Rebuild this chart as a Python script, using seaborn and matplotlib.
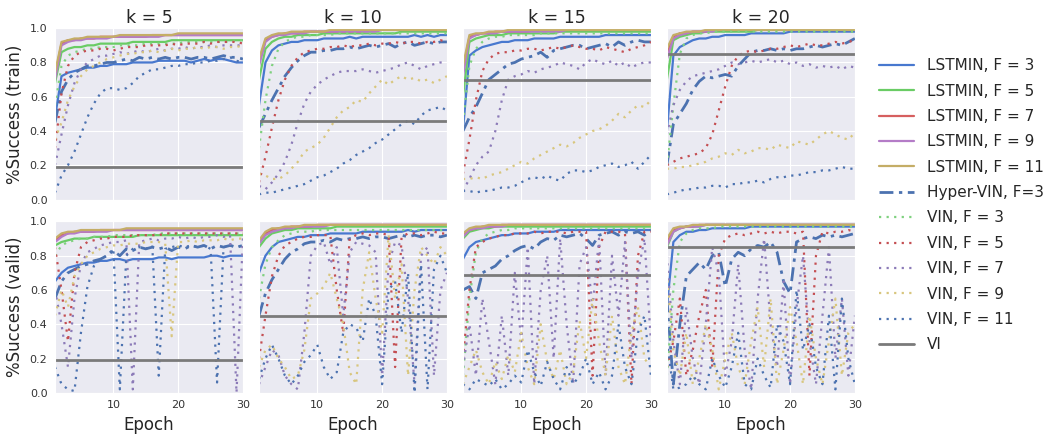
import matplotlib
matplotlib.use("Agg")
import matplotlib.pyplot as plt
import seaborn as sns
import pandas as pd

epochs = list(range(1, 31))
ks = [5, 10, 15, 20]
vi_train = [0.19, 0.46, 0.70, 0.85]
vi_valid = [0.19, 0.45, 0.69, 0.85]

names = ["L3", "L5", "L7", "L9", "L11", "HV", "V3", "V5", "V7", "V9", "V11"]
labels = ["LSTMIN, F = 3", "LSTMIN, F = 5", "LSTMIN, F = 7", "LSTMIN, F = 9",
          "LSTMIN, F = 11", "Hyper-VIN, F=3", "VIN, F = 3", "VIN, F = 5",
          "VIN, F = 7", "VIN, F = 9", "VIN, F = 11"]

# ---- training curves ----
train_k5 = {
    "L3": [0.48, 0.72, 0.74, 0.75, 0.76, 0.77, 0.77, 0.78, 0.78, 0.79, 0.79, 0.79, 0.80, 0.80, 0.80, 0.80, 0.81, 0.81, 0.81, 0.81, 0.81, 0.80, 0.81, 0.82, 0.81, 0.82, 0.82, 0.81, 0.80, 0.80],
    "L5": [0.68, 0.86, 0.88, 0.89, 0.89, 0.90, 0.90, 0.91, 0.91, 0.91, 0.91, 0.91, 0.92, 0.92, 0.92, 0.92, 0.92, 0.92, 0.93, 0.93, 0.93, 0.93, 0.93, 0.93, 0.93, 0.93, 0.93, 0.93, 0.93, 0.93],
    "L7": [0.72, 0.91, 0.93, 0.93, 0.94, 0.94, 0.94, 0.95, 0.95, 0.95, 0.95, 0.95, 0.95, 0.95, 0.95, 0.96, 0.96, 0.96, 0.96, 0.96, 0.96, 0.96, 0.96, 0.96, 0.96, 0.96, 0.96, 0.96, 0.96, 0.96],
    "L9": [0.70, 0.90, 0.92, 0.93, 0.93, 0.94, 0.94, 0.94, 0.94, 0.95, 0.95, 0.95, 0.95, 0.95, 0.95, 0.95, 0.95, 0.96, 0.96, 0.96, 0.96, 0.96, 0.96, 0.96, 0.96, 0.96, 0.96, 0.96, 0.96, 0.96],
    "L11": [0.74, 0.92, 0.93, 0.94, 0.94, 0.95, 0.95, 0.95, 0.95, 0.95, 0.96, 0.96, 0.96, 0.96, 0.96, 0.96, 0.96, 0.96, 0.96, 0.97, 0.97, 0.97, 0.97, 0.97, 0.97, 0.97, 0.97, 0.97, 0.97, 0.97],
    "HV": [0.45, 0.63, 0.70, 0.74, 0.76, 0.78, 0.78, 0.79, 0.80, 0.80, 0.81, 0.82, 0.81, 0.83, 0.82, 0.83, 0.82, 0.83, 0.82, 0.83, 0.83, 0.82, 0.83, 0.83, 0.82, 0.83, 0.84, 0.83, 0.83, 0.82],
    "V3": [0.55, 0.78, 0.84, 0.86, 0.87, 0.88, 0.88, 0.89, 0.89, 0.89, 0.90, 0.90, 0.90, 0.90, 0.91, 0.91, 0.91, 0.91, 0.91, 0.91, 0.92, 0.92, 0.92, 0.92, 0.92, 0.92, 0.92, 0.92, 0.93, 0.93],
    "V5": [0.30, 0.62, 0.78, 0.84, 0.86, 0.87, 0.87, 0.88, 0.88, 0.87, 0.88, 0.89, 0.89, 0.89, 0.90, 0.90, 0.90, 0.90, 0.91, 0.90, 0.91, 0.91, 0.91, 0.92, 0.91, 0.92, 0.92, 0.92, 0.92, 0.91],
    "V7": [0.20, 0.38, 0.55, 0.68, 0.76, 0.80, 0.82, 0.84, 0.84, 0.85, 0.86, 0.85, 0.86, 0.87, 0.86, 0.87, 0.88, 0.87, 0.88, 0.88, 0.89, 0.88, 0.89, 0.89, 0.90, 0.89, 0.90, 0.90, 0.90, 0.90],
    "V9": [0.35, 0.45, 0.58, 0.66, 0.72, 0.76, 0.78, 0.80, 0.82, 0.83, 0.84, 0.85, 0.85, 0.86, 0.86, 0.87, 0.86, 0.87, 0.88, 0.87, 0.88, 0.88, 0.89, 0.88, 0.89, 0.89, 0.88, 0.89, 0.89, 0.90],
    "V11": [0.04, 0.14, 0.20, 0.28, 0.38, 0.48, 0.56, 0.62, 0.65, 0.65, 0.64, 0.65, 0.68, 0.72, 0.74, 0.76, 0.76, 0.77, 0.78, 0.78, 0.79, 0.79, 0.80, 0.80, 0.81, 0.81, 0.82, 0.83, 0.81, 0.80],
}
train_k10 = {
    "L3": [0.55, 0.80, 0.87, 0.90, 0.91, 0.92, 0.92, 0.93, 0.93, 0.93, 0.94, 0.94, 0.94, 0.94, 0.95, 0.94, 0.95, 0.95, 0.95, 0.95, 0.95, 0.95, 0.95, 0.95, 0.96, 0.95, 0.96, 0.95, 0.96, 0.96],
    "L5": [0.70, 0.88, 0.92, 0.94, 0.95, 0.95, 0.96, 0.96, 0.96, 0.96, 0.97, 0.97, 0.97, 0.97, 0.97, 0.97, 0.97, 0.97, 0.97, 0.97, 0.97, 0.97, 0.98, 0.98, 0.98, 0.98, 0.98, 0.98, 0.98, 0.98],
    "L7": [0.80, 0.93, 0.95, 0.96, 0.97, 0.97, 0.97, 0.98, 0.98, 0.98, 0.98, 0.98, 0.98, 0.98, 0.98, 0.98, 0.98, 0.99, 0.99, 0.99, 0.99, 0.99, 0.99, 0.99, 0.99, 0.99, 0.99, 0.99, 0.99, 0.99],
    "L9": [0.78, 0.92, 0.95, 0.96, 0.96, 0.97, 0.97, 0.97, 0.98, 0.98, 0.98, 0.98, 0.98, 0.98, 0.98, 0.98, 0.98, 0.98, 0.98, 0.99, 0.99, 0.99, 0.99, 0.99, 0.99, 0.99, 0.99, 0.99, 0.99, 0.99],
    "L11": [0.82, 0.94, 0.96, 0.97, 0.97, 0.98, 0.98, 0.98, 0.98, 0.98, 0.98, 0.99, 0.99, 0.99, 0.99, 0.99, 0.99, 0.99, 0.99, 0.99, 0.99, 0.99, 0.99, 0.99, 0.99, 0.99, 0.99, 0.99, 0.99, 0.99],
    "HV": [0.42, 0.50, 0.58, 0.65, 0.72, 0.77, 0.81, 0.84, 0.86, 0.86, 0.87, 0.87, 0.88, 0.88, 0.89, 0.88, 0.89, 0.90, 0.89, 0.90, 0.91, 0.89, 0.91, 0.92, 0.90, 0.91, 0.92, 0.91, 0.92, 0.92],
    "V3": [0.30, 0.58, 0.78, 0.88, 0.92, 0.94, 0.95, 0.95, 0.96, 0.96, 0.96, 0.96, 0.97, 0.97, 0.97, 0.97, 0.97, 0.97, 0.97, 0.97, 0.97, 0.97, 0.97, 0.97, 0.97, 0.97, 0.97, 0.97, 0.97, 0.97],
    "V5": [0.10, 0.25, 0.42, 0.58, 0.70, 0.78, 0.83, 0.86, 0.87, 0.88, 0.88, 0.89, 0.89, 0.90, 0.89, 0.90, 0.90, 0.91, 0.90, 0.91, 0.91, 0.92, 0.91, 0.92, 0.92, 0.91, 0.92, 0.92, 0.93, 0.92],
    "V7": [0.08, 0.06, 0.10, 0.15, 0.22, 0.32, 0.45, 0.56, 0.63, 0.67, 0.70, 0.72, 0.74, 0.75, 0.75, 0.75, 0.76, 0.75, 0.74, 0.75, 0.76, 0.77, 0.79, 0.80, 0.78, 0.76, 0.78, 0.79, 0.80, 0.80],
    "V9": [0.15, 0.14, 0.12, 0.12, 0.14, 0.18, 0.22, 0.28, 0.30, 0.32, 0.36, 0.42, 0.48, 0.52, 0.54, 0.58, 0.57, 0.62, 0.66, 0.70, 0.67, 0.70, 0.72, 0.70, 0.71, 0.69, 0.70, 0.68, 0.70, 0.72],
    "V11": [0.03, 0.04, 0.04, 0.05, 0.06, 0.07, 0.08, 0.09, 0.11, 0.13, 0.14, 0.16, 0.18, 0.21, 0.23, 0.26, 0.28, 0.30, 0.33, 0.35, 0.38, 0.41, 0.44, 0.46, 0.44, 0.49, 0.52, 0.53, 0.54, 0.52],
}
train_k15 = {
    "L3": [0.40, 0.84, 0.87, 0.89, 0.90, 0.91, 0.92, 0.92, 0.93, 0.93, 0.93, 0.94, 0.94, 0.94, 0.94, 0.95, 0.95, 0.95, 0.95, 0.95, 0.95, 0.95, 0.96, 0.96, 0.96, 0.96, 0.96, 0.96, 0.96, 0.96],
    "L5": [0.60, 0.92, 0.94, 0.95, 0.96, 0.96, 0.96, 0.97, 0.97, 0.97, 0.97, 0.97, 0.97, 0.97, 0.97, 0.98, 0.98, 0.98, 0.98, 0.98, 0.98, 0.98, 0.98, 0.98, 0.98, 0.98, 0.98, 0.98, 0.98, 0.98],
    "L7": [0.75, 0.95, 0.96, 0.97, 0.97, 0.98, 0.98, 0.98, 0.98, 0.98, 0.98, 0.99, 0.99, 0.99, 0.99, 0.99, 0.99, 0.99, 0.99, 0.99, 0.99, 0.99, 0.99, 0.99, 0.99, 0.99, 0.99, 0.99, 0.99, 0.99],
    "L9": [0.72, 0.94, 0.96, 0.97, 0.97, 0.97, 0.98, 0.98, 0.98, 0.98, 0.98, 0.98, 0.98, 0.98, 0.98, 0.98, 0.99, 0.99, 0.99, 0.99, 0.99, 0.99, 0.99, 0.99, 0.99, 0.99, 0.99, 0.99, 0.99, 0.99],
    "L11": [0.78, 0.96, 0.97, 0.97, 0.98, 0.98, 0.98, 0.99, 0.99, 0.99, 0.99, 0.99, 0.99, 0.99, 0.99, 0.99, 0.99, 0.99, 0.99, 0.99, 0.99, 0.99, 0.99, 0.99, 0.99, 0.99, 0.99, 0.99, 0.99, 0.99],
    "HV": [0.40, 0.48, 0.54, 0.62, 0.70, 0.73, 0.76, 0.79, 0.80, 0.82, 0.83, 0.84, 0.86, 0.83, 0.87, 0.88, 0.89, 0.90, 0.90, 0.88, 0.89, 0.90, 0.91, 0.89, 0.92, 0.90, 0.92, 0.93, 0.92, 0.92],
    "V3": [0.45, 0.78, 0.88, 0.92, 0.94, 0.95, 0.95, 0.96, 0.96, 0.96, 0.96, 0.96, 0.97, 0.97, 0.97, 0.97, 0.97, 0.97, 0.97, 0.97, 0.97, 0.97, 0.97, 0.97, 0.97, 0.97, 0.97, 0.97, 0.97, 0.97],
    "V5": [0.15, 0.35, 0.58, 0.75, 0.82, 0.85, 0.86, 0.86, 0.87, 0.87, 0.88, 0.88, 0.87, 0.88, 0.89, 0.88, 0.89, 0.90, 0.89, 0.88, 0.88, 0.87, 0.89, 0.88, 0.87, 0.86, 0.88, 0.89, 0.90, 0.92],
    "V7": [0.05, 0.12, 0.20, 0.25, 0.28, 0.40, 0.58, 0.70, 0.72, 0.73, 0.75, 0.74, 0.76, 0.77, 0.78, 0.80, 0.79, 0.78, 0.76, 0.80, 0.82, 0.80, 0.79, 0.81, 0.78, 0.80, 0.77, 0.79, 0.80, 0.80],
    "V9": [0.12, 0.12, 0.13, 0.12, 0.14, 0.15, 0.16, 0.18, 0.20, 0.22, 0.21, 0.24, 0.26, 0.28, 0.30, 0.32, 0.31, 0.33, 0.36, 0.38, 0.40, 0.41, 0.43, 0.46, 0.50, 0.48, 0.52, 0.55, 0.54, 0.58],
    "V11": [0.05, 0.05, 0.04, 0.05, 0.05, 0.06, 0.07, 0.07, 0.08, 0.10, 0.12, 0.13, 0.12, 0.14, 0.12, 0.11, 0.15, 0.17, 0.17, 0.16, 0.17, 0.19, 0.20, 0.21, 0.19, 0.20, 0.22, 0.18, 0.22, 0.26],
}
train_k20 = {
    "L3": [0.40, 0.84, 0.89, 0.91, 0.93, 0.94, 0.94, 0.95, 0.95, 0.96, 0.96, 0.96, 0.96, 0.97, 0.97, 0.97, 0.97, 0.97, 0.97, 0.98, 0.98, 0.98, 0.98, 0.98, 0.98, 0.98, 0.98, 0.98, 0.98, 0.98],
    "L5": [0.70, 0.93, 0.95, 0.96, 0.97, 0.97, 0.98, 0.98, 0.98, 0.98, 0.98, 0.98, 0.98, 0.98, 0.99, 0.99, 0.99, 0.99, 0.99, 0.99, 0.99, 0.99, 0.99, 0.99, 0.99, 0.99, 0.99, 0.99, 0.99, 0.99],
    "L7": [0.85, 0.95, 0.97, 0.97, 0.98, 0.98, 0.98, 0.99, 0.99, 0.99, 0.99, 0.99, 0.99, 0.99, 0.99, 0.99, 0.99, 0.99, 0.99, 0.99, 0.99, 0.99, 0.99, 0.99, 0.99, 0.99, 0.99, 0.99, 0.99, 0.99],
    "L9": [0.82, 0.94, 0.96, 0.97, 0.98, 0.98, 0.98, 0.98, 0.99, 0.99, 0.99, 0.99, 0.99, 0.99, 0.99, 0.99, 0.99, 0.99, 0.99, 0.99, 0.99, 0.99, 0.99, 0.99, 0.99, 0.99, 0.99, 0.99, 0.99, 0.99],
    "L11": [0.88, 0.96, 0.97, 0.98, 0.98, 0.98, 0.99, 0.99, 0.99, 0.99, 0.99, 0.99, 0.99, 0.99, 0.99, 0.99, 0.99, 0.99, 0.99, 0.99, 0.99, 0.99, 0.99, 0.99, 0.99, 0.99, 0.99, 0.99, 0.99, 0.99],
    "HV": [0.20, 0.44, 0.50, 0.56, 0.64, 0.69, 0.72, 0.71, 0.72, 0.73, 0.72, 0.78, 0.82, 0.86, 0.87, 0.87, 0.88, 0.87, 0.88, 0.87, 0.88, 0.88, 0.89, 0.90, 0.89, 0.90, 0.91, 0.90, 0.92, 0.94],
    "V3": [0.20, 0.55, 0.85, 0.94, 0.96, 0.97, 0.97, 0.98, 0.98, 0.98, 0.98, 0.98, 0.98, 0.98, 0.98, 0.98, 0.98, 0.98, 0.98, 0.98, 0.98, 0.98, 0.98, 0.98, 0.98, 0.98, 0.98, 0.98, 0.98, 0.98],
    "V5": [0.20, 0.22, 0.24, 0.25, 0.26, 0.27, 0.30, 0.38, 0.52, 0.66, 0.78, 0.84, 0.86, 0.87, 0.86, 0.87, 0.88, 0.88, 0.89, 0.90, 0.89, 0.90, 0.91, 0.90, 0.90, 0.91, 0.92, 0.91, 0.92, 0.93],
    "V7": [0.38, 0.55, 0.64, 0.69, 0.72, 0.73, 0.74, 0.75, 0.76, 0.78, 0.80, 0.79, 0.80, 0.81, 0.80, 0.81, 0.82, 0.80, 0.81, 0.79, 0.80, 0.78, 0.79, 0.77, 0.78, 0.77, 0.78, 0.76, 0.78, 0.77],
    "V9": [0.18, 0.18, 0.19, 0.19, 0.20, 0.21, 0.22, 0.24, 0.25, 0.27, 0.26, 0.29, 0.27, 0.28, 0.30, 0.30, 0.29, 0.32, 0.31, 0.30, 0.34, 0.33, 0.32, 0.35, 0.38, 0.40, 0.38, 0.36, 0.35, 0.39],
    "V11": [0.03, 0.04, 0.05, 0.06, 0.06, 0.07, 0.07, 0.08, 0.08, 0.07, 0.09, 0.09, 0.10, 0.10, 0.11, 0.10, 0.12, 0.13, 0.13, 0.14, 0.14, 0.15, 0.16, 0.16, 0.17, 0.17, 0.18, 0.19, 0.18, 0.18],
}

# ---- validation curves ----
valid_k5 = {
    "L3": [0.65, 0.70, 0.73, 0.74, 0.75, 0.76, 0.76, 0.77, 0.77, 0.78, 0.78, 0.77, 0.78, 0.78, 0.78, 0.78, 0.79, 0.79, 0.78, 0.79, 0.79, 0.79, 0.79, 0.79, 0.80, 0.80, 0.79, 0.80, 0.80, 0.80],
    "L5": [0.86, 0.88, 0.89, 0.90, 0.90, 0.90, 0.91, 0.91, 0.91, 0.91, 0.91, 0.91, 0.91, 0.92, 0.92, 0.92, 0.92, 0.92, 0.92, 0.92, 0.92, 0.92, 0.92, 0.92, 0.92, 0.92, 0.92, 0.92, 0.92, 0.92],
    "L7": [0.89, 0.92, 0.93, 0.94, 0.94, 0.94, 0.94, 0.95, 0.95, 0.95, 0.95, 0.95, 0.95, 0.95, 0.95, 0.95, 0.95, 0.95, 0.95, 0.95, 0.95, 0.95, 0.95, 0.95, 0.95, 0.95, 0.95, 0.95, 0.95, 0.95],
    "L9": [0.88, 0.91, 0.93, 0.93, 0.94, 0.94, 0.94, 0.94, 0.94, 0.95, 0.95, 0.95, 0.95, 0.95, 0.95, 0.95, 0.95, 0.95, 0.95, 0.95, 0.95, 0.95, 0.95, 0.95, 0.95, 0.95, 0.95, 0.95, 0.95, 0.95],
    "L11": [0.90, 0.93, 0.94, 0.94, 0.95, 0.95, 0.95, 0.95, 0.95, 0.95, 0.95, 0.96, 0.96, 0.96, 0.96, 0.96, 0.96, 0.96, 0.96, 0.96, 0.96, 0.96, 0.96, 0.96, 0.96, 0.96, 0.96, 0.96, 0.96, 0.96],
    "HV": [0.55, 0.65, 0.70, 0.72, 0.74, 0.75, 0.77, 0.78, 0.80, 0.83, 0.80, 0.84, 0.83, 0.85, 0.84, 0.85, 0.84, 0.85, 0.83, 0.85, 0.84, 0.86, 0.85, 0.86, 0.84, 0.86, 0.85, 0.86, 0.85, 0.86],
    "V3": [0.80, 0.86, 0.88, 0.89, 0.90, 0.90, 0.91, 0.91, 0.91, 0.92, 0.92, 0.92, 0.92, 0.92, 0.92, 0.92, 0.93, 0.93, 0.93, 0.93, 0.93, 0.93, 0.93, 0.93, 0.93, 0.93, 0.93, 0.93, 0.93, 0.93],
    "V5": [0.85, 0.60, 0.30, 0.70, 0.85, 0.88, 0.89, 0.90, 0.90, 0.91, 0.91, 0.91, 0.92, 0.92, 0.92, 0.92, 0.92, 0.93, 0.93, 0.93, 0.93, 0.93, 0.93, 0.93, 0.93, 0.93, 0.93, 0.93, 0.93, 0.93],
    "V7": [0.60, 0.40, 0.15, 0.55, 0.75, 0.82, 0.84, 0.86, 0.87, 0.88, 0.88, 0.89, 0.02, 0.88, 0.89, 0.90, 0.89, 0.90, 0.90, 0.91, 0.90, 0.91, 0.90, 0.91, 0.91, 0.92, 0.91, 0.92, 0.00, 0.92],
    "V9": [0.45, 0.60, 0.50, 0.68, 0.75, 0.80, 0.82, 0.84, 0.85, 0.86, 0.86, 0.87, 0.87, 0.87, 0.88, 0.88, 0.88, 0.87, 0.33, 0.88, 0.88, 0.89, 0.88, 0.89, 0.89, 0.89, 0.90, 0.89, 0.90, 0.90],
    "V11": [0.15, 0.05, 0.02, 0.01, 0.35, 0.62, 0.74, 0.78, 0.80, 0.84, 0.02, 0.80, 0.84, 0.85, 0.84, 0.86, 0.10, 0.84, 0.85, 0.86, 0.85, 0.86, 0.85, 0.86, 0.84, 0.06, 0.85, 0.86, 0.85, 0.86],
}
valid_k10 = {
    "L3": [0.70, 0.80, 0.85, 0.88, 0.89, 0.90, 0.91, 0.91, 0.92, 0.92, 0.92, 0.93, 0.93, 0.93, 0.93, 0.93, 0.94, 0.94, 0.94, 0.94, 0.94, 0.94, 0.94, 0.95, 0.94, 0.95, 0.95, 0.95, 0.95, 0.95],
    "L5": [0.85, 0.90, 0.93, 0.94, 0.95, 0.95, 0.96, 0.96, 0.96, 0.96, 0.96, 0.96, 0.97, 0.97, 0.97, 0.97, 0.97, 0.97, 0.97, 0.97, 0.97, 0.97, 0.97, 0.97, 0.97, 0.97, 0.97, 0.97, 0.97, 0.97],
    "L7": [0.88, 0.93, 0.95, 0.96, 0.96, 0.97, 0.97, 0.97, 0.97, 0.98, 0.98, 0.98, 0.98, 0.98, 0.98, 0.98, 0.98, 0.98, 0.98, 0.98, 0.98, 0.98, 0.98, 0.98, 0.98, 0.98, 0.98, 0.98, 0.98, 0.98],
    "L9": [0.87, 0.92, 0.94, 0.95, 0.96, 0.96, 0.97, 0.97, 0.97, 0.97, 0.97, 0.98, 0.98, 0.98, 0.98, 0.98, 0.98, 0.98, 0.98, 0.98, 0.98, 0.98, 0.98, 0.98, 0.98, 0.98, 0.98, 0.98, 0.98, 0.98],
    "L11": [0.89, 0.94, 0.96, 0.96, 0.97, 0.97, 0.97, 0.98, 0.98, 0.98, 0.98, 0.98, 0.98, 0.98, 0.98, 0.98, 0.98, 0.98, 0.98, 0.98, 0.98, 0.98, 0.98, 0.98, 0.98, 0.98, 0.98, 0.98, 0.98, 0.98],
    "HV": [0.45, 0.58, 0.66, 0.72, 0.78, 0.82, 0.84, 0.87, 0.88, 0.88, 0.89, 0.88, 0.90, 0.89, 0.90, 0.90, 0.91, 0.90, 0.91, 0.91, 0.90, 0.91, 0.92, 0.91, 0.92, 0.91, 0.92, 0.92, 0.91, 0.92],
    "V3": [0.55, 0.75, 0.85, 0.89, 0.92, 0.93, 0.94, 0.94, 0.94, 0.95, 0.95, 0.95, 0.95, 0.95, 0.95, 0.95, 0.95, 0.95, 0.95, 0.95, 0.95, 0.95, 0.95, 0.95, 0.95, 0.95, 0.95, 0.95, 0.95, 0.95],
    "V5": [0.20, 0.45, 0.68, 0.80, 0.86, 0.88, 0.90, 0.91, 0.91, 0.92, 0.92, 0.92, 0.60, 0.35, 0.90, 0.92, 0.93, 0.92, 0.93, 0.93, 0.92, 0.15, 0.91, 0.93, 0.93, 0.92, 0.93, 0.94, 0.93, 0.93],
    "V7": [0.05, 0.15, 0.25, 0.22, 0.10, 0.05, 0.02, 0.35, 0.80, 0.86, 0.88, 0.75, 0.85, 0.45, 0.82, 0.88, 0.87, 0.86, 0.82, 0.10, 0.75, 0.88, 0.86, 0.55, 0.05, 0.80, 0.85, 0.10, 0.60, 0.70],
    "V9": [0.15, 0.25, 0.28, 0.20, 0.15, 0.08, 0.10, 0.25, 0.55, 0.58, 0.62, 0.70, 0.55, 0.40, 0.12, 0.05, 0.60, 0.82, 0.55, 0.35, 0.92, 0.55, 0.75, 0.10, 0.60, 0.85, 0.80, 0.75, 0.85, 0.80],
    "V11": [0.08, 0.20, 0.28, 0.20, 0.10, 0.05, 0.10, 0.18, 0.22, 0.28, 0.15, 0.08, 0.12, 0.35, 0.40, 0.38, 0.30, 0.55, 0.45, 0.05, 0.60, 0.65, 0.35, 0.70, 0.00, 0.75, 0.02, 0.72, 0.80, 0.70],
}
valid_k15 = {
    "L3": [0.78, 0.85, 0.88, 0.89, 0.90, 0.91, 0.92, 0.92, 0.93, 0.93, 0.93, 0.94, 0.94, 0.94, 0.94, 0.95, 0.95, 0.95, 0.95, 0.95, 0.95, 0.95, 0.95, 0.95, 0.95, 0.95, 0.95, 0.95, 0.95, 0.95],
    "L5": [0.90, 0.94, 0.95, 0.96, 0.96, 0.97, 0.97, 0.97, 0.97, 0.97, 0.97, 0.97, 0.97, 0.97, 0.97, 0.97, 0.97, 0.97, 0.97, 0.97, 0.97, 0.97, 0.97, 0.97, 0.97, 0.97, 0.97, 0.97, 0.97, 0.97],
    "L7": [0.92, 0.95, 0.96, 0.97, 0.97, 0.97, 0.98, 0.98, 0.98, 0.98, 0.98, 0.98, 0.98, 0.98, 0.98, 0.98, 0.98, 0.98, 0.98, 0.98, 0.98, 0.98, 0.98, 0.98, 0.98, 0.98, 0.98, 0.98, 0.98, 0.98],
    "L9": [0.91, 0.95, 0.96, 0.96, 0.97, 0.97, 0.97, 0.98, 0.98, 0.98, 0.98, 0.98, 0.98, 0.98, 0.98, 0.98, 0.98, 0.98, 0.98, 0.98, 0.98, 0.98, 0.98, 0.98, 0.98, 0.98, 0.98, 0.98, 0.98, 0.98],
    "L11": [0.93, 0.96, 0.97, 0.97, 0.98, 0.98, 0.98, 0.98, 0.98, 0.98, 0.98, 0.98, 0.98, 0.98, 0.98, 0.98, 0.98, 0.98, 0.98, 0.98, 0.98, 0.98, 0.98, 0.98, 0.98, 0.98, 0.98, 0.98, 0.98, 0.98],
    "HV": [0.60, 0.62, 0.55, 0.70, 0.72, 0.74, 0.78, 0.80, 0.83, 0.85, 0.86, 0.84, 0.88, 0.90, 0.89, 0.92, 0.91, 0.92, 0.93, 0.90, 0.86, 0.92, 0.93, 0.94, 0.92, 0.94, 0.93, 0.94, 0.92, 0.95],
    "V3": [0.10, 0.55, 0.82, 0.90, 0.93, 0.94, 0.95, 0.95, 0.96, 0.96, 0.96, 0.96, 0.96, 0.96, 0.96, 0.96, 0.96, 0.96, 0.96, 0.96, 0.96, 0.96, 0.96, 0.96, 0.96, 0.96, 0.96, 0.96, 0.96, 0.96],
    "V5": [0.20, 0.60, 0.85, 0.88, 0.90, 0.91, 0.92, 0.92, 0.93, 0.93, 0.93, 0.94, 0.93, 0.94, 0.94, 0.94, 0.93, 0.94, 0.94, 0.94, 0.10, 0.85, 0.94, 0.94, 0.94, 0.93, 0.05, 0.80, 0.94, 0.94],
    "V7": [0.15, 0.40, 0.10, 0.55, 0.30, 0.05, 0.45, 0.10, 0.70, 0.30, 0.85, 0.05, 0.60, 0.80, 0.20, 0.90, 0.40, 0.05, 0.75, 0.85, 0.50, 0.90, 0.10, 0.80, 0.45, 0.88, 0.20, 0.70, 0.90, 0.30],
    "V9": [0.05, 0.15, 0.25, 0.12, 0.05, 0.18, 0.08, 0.22, 0.12, 0.35, 0.15, 0.05, 0.40, 0.18, 0.08, 0.25, 0.05, 0.12, 0.42, 0.20, 0.55, 0.30, 0.10, 0.45, 0.15, 0.05, 0.35, 0.50, 0.20, 0.15],
    "V11": [0.05, 0.02, 0.08, 0.06, 0.04, 0.08, 0.02, 0.05, 0.10, 0.06, 0.25, 0.12, 0.04, 0.18, 0.08, 0.02, 0.15, 0.05, 0.10, 0.20, 0.05, 0.12, 0.02, 0.10, 0.40, 0.15, 0.05, 0.35, 0.45, 0.10],
}
valid_k20 = {
    "L3": [0.50, 0.88, 0.92, 0.94, 0.94, 0.95, 0.95, 0.96, 0.96, 0.96, 0.96, 0.96, 0.96, 0.97, 0.97, 0.97, 0.97, 0.97, 0.97, 0.97, 0.97, 0.97, 0.97, 0.97, 0.97, 0.97, 0.97, 0.97, 0.97, 0.97],
    "L5": [0.85, 0.94, 0.96, 0.97, 0.97, 0.97, 0.98, 0.98, 0.98, 0.98, 0.98, 0.98, 0.98, 0.98, 0.98, 0.98, 0.98, 0.98, 0.98, 0.98, 0.98, 0.98, 0.98, 0.98, 0.98, 0.98, 0.98, 0.98, 0.98, 0.98],
    "L7": [0.88, 0.95, 0.96, 0.97, 0.97, 0.98, 0.98, 0.98, 0.98, 0.98, 0.98, 0.98, 0.98, 0.98, 0.98, 0.98, 0.98, 0.98, 0.98, 0.98, 0.98, 0.98, 0.98, 0.98, 0.98, 0.98, 0.98, 0.98, 0.98, 0.98],
    "L9": [0.86, 0.94, 0.96, 0.97, 0.97, 0.97, 0.98, 0.98, 0.98, 0.98, 0.98, 0.98, 0.98, 0.98, 0.98, 0.98, 0.98, 0.98, 0.98, 0.98, 0.98, 0.98, 0.98, 0.98, 0.98, 0.98, 0.98, 0.98, 0.98, 0.98],
    "L11": [0.90, 0.96, 0.97, 0.97, 0.98, 0.98, 0.98, 0.98, 0.98, 0.98, 0.98, 0.98, 0.98, 0.98, 0.98, 0.98, 0.98, 0.98, 0.98, 0.98, 0.98, 0.98, 0.98, 0.98, 0.98, 0.98, 0.98, 0.98, 0.98, 0.98],
    "HV": [0.55, 0.05, 0.40, 0.68, 0.72, 0.76, 0.72, 0.80, 0.82, 0.62, 0.78, 0.82, 0.80, 0.84, 0.86, 0.85, 0.88, 0.82, 0.65, 0.58, 0.88, 0.90, 0.91, 0.90, 0.92, 0.91, 0.92, 0.91, 0.92, 0.93],
    "V3": [0.10, 0.60, 0.88, 0.93, 0.95, 0.96, 0.96, 0.96, 0.97, 0.97, 0.97, 0.97, 0.97, 0.97, 0.97, 0.97, 0.97, 0.97, 0.97, 0.97, 0.97, 0.97, 0.97, 0.97, 0.97, 0.97, 0.97, 0.97, 0.97, 0.97],
    "V5": [0.15, 0.30, 0.55, 0.10, 0.25, 0.45, 0.60, 0.15, 0.80, 0.90, 0.92, 0.93, 0.92, 0.93, 0.94, 0.93, 0.94, 0.93, 0.94, 0.94, 0.93, 0.94, 0.10, 0.80, 0.94, 0.93, 0.94, 0.94, 0.95, 0.94],
    "V7": [0.80, 0.30, 0.05, 0.50, 0.20, 0.05, 0.40, 0.85, 0.70, 0.10, 0.30, 0.75, 0.25, 0.02, 0.55, 0.90, 0.40, 0.15, 0.65, 0.05, 0.50, 0.80, 0.30, 0.05, 0.45, 0.85, 0.20, 0.55, 0.10, 0.45],
    "V9": [0.70, 0.25, 0.10, 0.35, 0.05, 0.20, 0.40, 0.25, 0.02, 0.20, 0.35, 0.15, 0.05, 0.30, 0.50, 0.15, 0.55, 0.05, 0.25, 0.50, 0.30, 0.05, 0.45, 0.20, 0.05, 0.30, 0.55, 0.10, 0.35, 0.40],
    "V11": [0.30, 0.02, 0.03, 0.05, 0.10, 0.05, 0.02, 0.20, 0.10, 0.03, 0.15, 0.35, 0.05, 0.02, 0.20, 0.10, 0.03, 0.40, 0.30, 0.05, 0.60, 0.25, 0.40, 0.15, 0.05, 0.45, 0.02, 0.55, 0.20, 0.05],
}

train_panels = [train_k5, train_k10, train_k15, train_k20]
valid_panels = [valid_k5, valid_k10, valid_k15, valid_k20]

dot = (0, (1, 2.4))
dashdot = (0, (5, 2, 1.2, 2))
line_styles = {
    "L3": ("#4878CF", "-", 1.6),
    "L5": ("#6ACC65", "-", 1.6),
    "L7": ("#D65F5F", "-", 1.6),
    "L9": ("#B47CC7", "-", 1.6),
    "L11": ("#C4AD66", "-", 1.6),
    "HV": ("#4C72B0", dashdot, 2.0),
    "V3": ("#7FD17F", dot, 1.6),
    "V5": ("#C44E52", dot, 1.6),
    "V7": ("#8C7BB8", dot, 1.6),
    "V9": ("#D8C67E", dot, 1.6),
    "V11": ("#4C72B0", dot, 1.6),
}

sns.set_style("darkgrid")
plt.rcParams["font.family"] = ["DejaVu Sans"]

fig, axes = plt.subplots(2, 4, sharex=True, sharey=True, figsize=(10.58, 4.34), dpi=100)
fig.subplots_adjust(left=0.052, right=0.808, top=0.935, bottom=0.095, wspace=0.085, hspace=0.128)

for row, (panels, vis, ylab) in enumerate([(train_panels, vi_train, "%Success (train)"),
                                           (valid_panels, vi_valid, "%Success (valid)")]):
    for col in range(4):
        ax = axes[row, col]
        data = panels[col]
        for key, lab in zip(names, labels):
            c, ls, lw = line_styles[key]
            df = pd.DataFrame({"epoch": epochs, "val": data[key]})
            sns.lineplot(data=df, x="epoch", y="val", ax=ax, color=c,
                         linestyle=ls, linewidth=lw, label=lab, legend=False)
        vi_df = pd.DataFrame({"epoch": epochs, "val": [vis[col]] * len(epochs)})
        sns.lineplot(data=vi_df, x="epoch", y="val", ax=ax, color="#7A7A7A",
                     linewidth=2.0, label="VI", legend=False)
        ax.set_xlim(1, 30)
        ax.set_ylim(0, 1.0)
        ax.set_xticks([10, 20, 30])
        ax.set_yticks([0.0, 0.2, 0.4, 0.6, 0.8, 1.0])
        ax.tick_params(labelsize=8, pad=2, colors="#333333")
        ax.set_xlabel("Epoch" if row == 1 else "", fontsize=12)
        ax.set_ylabel(ylab if col == 0 else "", fontsize=12)
        if row == 0:
            ax.set_title(f"k = {ks[col]}", fontsize=12.5, pad=4)

handles, labs = axes[0, 0].get_legend_handles_labels()
fig.legend(handles, labs, loc="center left", bbox_to_anchor=(0.818, 0.527),
           frameon=False, fontsize=11, labelspacing=0.68, handlelength=2.3,
           handletextpad=0.85)

fig.savefig("out.png", dpi=100)
